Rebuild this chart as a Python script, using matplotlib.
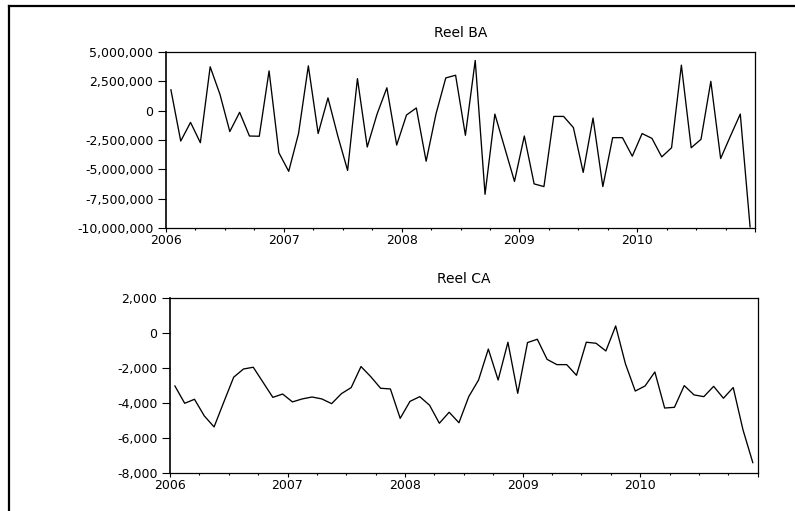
import matplotlib.pyplot as plt
import numpy as np
from matplotlib.lines import Line2D
from matplotlib.ticker import FixedLocator, FuncFormatter

plt.rcParams["font.family"] = ["DejaVu Sans"]

# monthly series, Jan 2006 - Dec 2010
start_year = 2006
years = [2006, 2007, 2008, 2009, 2010]

reel_ba = [
    1780000, -2590000, -1000000, -2730000, 3740000, 1380000,
    -1780000, -140000, -2160000, -2180000, 3390000, -3590000,
    -5170000, -1950000, 3820000, -1950000, 1090000, -2160000,
    -5090000, 2730000, -3100000, -290000, 1950000, -2930000,
    -370000, 230000, -4310000, -290000, 2790000, 3020000,
    -2100000, 4280000, -7130000, -290000, -3160000, -6030000,
    -2160000, -6240000, -6470000, -490000, -490000, -1440000,
    -5260000, -630000, -6470000, -2300000, -2300000, -3880000,
    -1950000, -2360000, -3940000, -3160000, 3880000, -3160000,
    -2440000, 2500000, -4080000, -2160000, -290000, -9910000,
]

reel_ca = [
    -3010, -4000, -3770, -4720, -5350, -3920,
    -2510, -2040, -1940, -2800, -3660, -3470,
    -3920, -3750, -3640, -3750, -4020, -3450,
    -3100, -1900, -2480, -3140, -3180, -4860,
    -3890, -3620, -4110, -5140, -4510, -5110,
    -3620, -2670, -900, -2670, -510, -3430,
    -530, -340, -1490, -1790, -1790, -2400,
    -510, -570, -1010, 420, -1750, -3300,
    -3010, -2210, -4270, -4230, -2990, -3520,
    -3620, -3030, -3710, -3100, -5520, -7390,
]

panels = [
    ("Reel BA", reel_ba, [5000000, 2500000, 0, -2500000, -5000000, -7500000, -10000000]),
    ("Reel CA", reel_ca, [2000, 0, -2000, -4000, -6000, -8000]),
]

W, H = 795, 511
fig = plt.figure(figsize=(W / 100, H / 100), dpi=100)

# axes boxes in pixels: left, right, top, bottom
boxes = [(166, 755, 52, 228), (170, 757.7, 298.3, 473.3)]

# observations sit in the middle of each month
x = start_year + (np.arange(len(reel_ba)) + 0.5) / 12

for (title, values, yticks), (l, r, t, b) in zip(panels, boxes):
    ax = fig.add_axes([l / W, 1 - b / H, (r - l) / W, (b - t) / H])
    ax.plot(x, values, color="black", lw=0.95)
    ax.set_xlim(start_year, start_year + len(years))
    ax.set_ylim(min(yticks), max(yticks))

    ax.set_yticks(yticks)
    ax.yaxis.set_major_formatter(FuncFormatter(lambda v, p: f"{v:,.0f}"))
    ax.xaxis.set_major_locator(FixedLocator(years + [years[-1] + 1]))
    ax.set_xticklabels([str(y) for y in years] + [""])
    ax.xaxis.set_minor_locator(FixedLocator(np.arange(start_year, years[-1] + 1, 0.25)))

    ax.tick_params(axis="y", direction="out", length=6, width=0.8, pad=3, labelsize=9)
    ax.tick_params(axis="x", which="major", direction="out", length=3, width=0.8, pad=1, labelsize=9)
    ax.tick_params(axis="x", which="minor", direction="out", length=1.5, width=0.8)
    for s in ax.spines.values():
        s.set_linewidth(0.9)
    ax.spines["left"].set_linewidth(1.2)
    ax.set_title(title, fontsize=10, pad=11)

# outer frame (only left and top edges are visible in the crop)
fig.add_artist(Line2D([9 / W, 9 / W], [0, 1 - 6 / H], color="black", lw=1.6))
fig.add_artist(Line2D([9 / W, 1], [1 - 6 / H, 1 - 6 / H], color="black", lw=1.6))

fig.savefig("out.png", dpi=100)
